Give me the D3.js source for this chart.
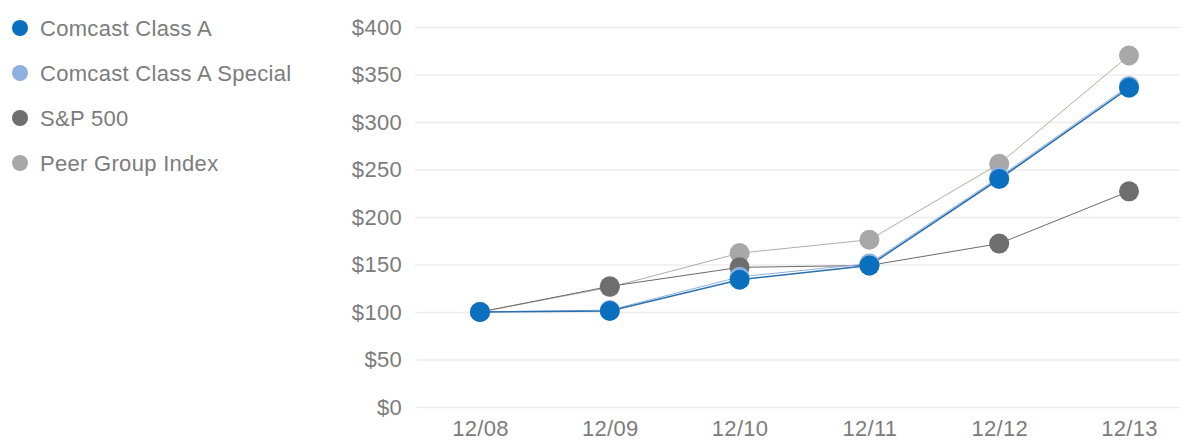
<!DOCTYPE html>
<html>
<head>
<meta charset="utf-8">
<script src="https://cdn.jsdelivr.net/npm/d3@7"></script>
<style>
  body { margin: 0; background: #fff; }
  svg text { font-family: "Liberation Sans", Arial, sans-serif; letter-spacing: 0.3px; }
</style>
</head>
<body>
<div id="wrapper"></div>
<script>
// 1. Data
const years = ["12/08", "12/09", "12/10", "12/11", "12/12", "12/13"]
const seriesNames = ["Comcast Class A", "Comcast Class A Special", "S&P 500", "Peer Group Index"]
const classA = [100, 101, 134, 149, 240, 336]
const classASpecial = [100, 102, 137, 151, 242, 338]
const sp500 = [100, 127, 147, 149, 172, 227]
const peerGroup = [100, 126, 162, 176, 256, 370]
const yTicks = [0, 50, 100, 150, 200, 250, 300, 350, 400]

const colors = ["#0a6fbe", "#8eb0de", "#6e6e6e", "#a8a8a8"]
const lineColors = ["#2a6fae", "#8eb0de", "#6a6a6a", "#b4aca2"]

const series = [classA, classASpecial, sp500, peerGroup].map((values, i) => ({
  name: seriesNames[i],
  values,
  color: colors[i],
  lineColor: lineColors[i],
  lineWidth: i === 0 ? 1.6 : 1,
}))

// 2. Dimensions
const dimensions = {
  width: 1180,
  height: 441,
  margin: { top: 27, right: 0, bottom: 34, left: 415 },
}
dimensions.boundedWidth = dimensions.width - dimensions.margin.left - dimensions.margin.right
dimensions.boundedHeight = dimensions.height - dimensions.margin.top - dimensions.margin.bottom

// 3. Canvas
const wrapper = d3.select("#wrapper")
  .append("svg")
  .attr("width", dimensions.width)
  .attr("height", dimensions.height)

const bounds = wrapper.append("g")
  .attr("transform", `translate(${dimensions.margin.left},${dimensions.margin.top})`)

// 4. Scales
const xScale = d3.scalePoint()
  .domain(years)
  .range([65, 714])

const yScale = d3.scaleLinear()
  .domain([0, 400])
  .range([380, 0])

// 5. Peripherals
const yAxis = bounds.append("g")
  .call(d3.axisLeft(yScale).tickValues(yTicks).tickSize(-dimensions.boundedWidth)
    .tickFormat(d => `$${d}`).tickPadding(13))
yAxis.select(".domain").remove()
yAxis.selectAll(".tick line").attr("stroke", "#ececec").attr("stroke-width", 1.5)
yAxis.selectAll(".tick text")
  .attr("fill", "#7c7c7c")
  .style("font-size", "22px")

const xAxis = bounds.append("g")
  .attr("transform", `translate(0,${yScale(0)})`)
  .call(d3.axisBottom(xScale).tickSize(0).tickPadding(13))
xAxis.select(".domain").remove()
xAxis.selectAll(".tick text")
  .attr("fill", "#7c7c7c")
  .style("font-size", "22px")

// 6. Lines and dots (drawn back to front)
const line = d3.line()
  .x((d, i) => xScale(years[i]))
  .y(d => yScale(d))

const drawOrder = series.slice().reverse()

drawOrder.forEach(s => {
  bounds.append("path")
    .datum(s.values)
    .attr("fill", "none")
    .attr("stroke", s.lineColor)
    .attr("stroke-width", s.lineWidth)
    .attr("d", line)
})

drawOrder.forEach(s => {
  bounds.selectAll(null)
    .data(s.values)
    .enter()
    .append("circle")
    .attr("cx", (d, i) => xScale(years[i]))
    .attr("cy", d => yScale(d))
    .attr("r", 10)
    .attr("fill", s.color)
})

// 7. Legend
const legend = wrapper.append("g")
const legendItems = legend.selectAll("g")
  .data(series)
  .enter()
  .append("g")
  .attr("transform", (d, i) => `translate(0,${28 + i * 45})`)

legendItems.append("circle")
  .attr("cx", 20)
  .attr("cy", 0)
  .attr("r", 8)
  .attr("fill", d => d.color)

legendItems.append("text")
  .attr("x", 40)
  .attr("y", 0)
  .attr("dy", "0.35em")
  .attr("fill", "#7c7c7c")
  .style("font-size", "22px")
  .text(d => d.name)
</script>
</body>
</html>
